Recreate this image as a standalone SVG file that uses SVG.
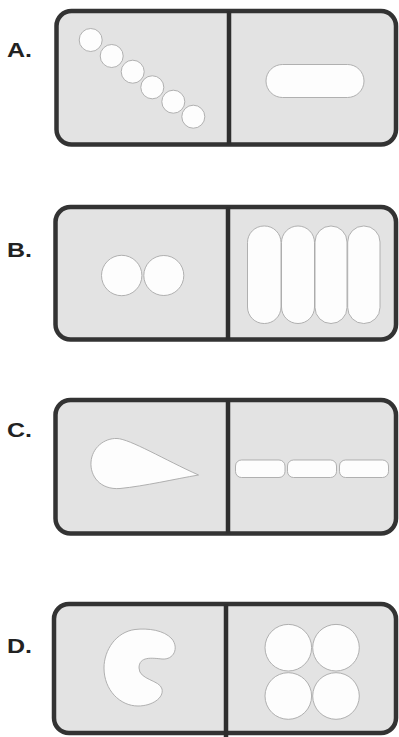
<svg xmlns="http://www.w3.org/2000/svg" width="399" height="737" viewBox="0 0 399 737">
<style>
.box{fill:#e3e3e3;stroke:#333;stroke-width:4.5}
.div{stroke:#2e2e2e;stroke-width:4.5}
.cell{fill:#fdfdfd;stroke:#a8a8a8;stroke-width:0.9}
.lbl{font-family:"Liberation Sans",Arial,sans-serif;font-weight:bold;font-size:20px;fill:#222}
</style>
<rect width="399" height="737" fill="#fff"/>
<g id="panelA">
<text class="lbl" x="7" y="57" textLength="25" lengthAdjust="spacingAndGlyphs">A.</text>
<rect class="box" x="56.5" y="11" width="339.5" height="133.5" rx="15"/>
<line class="div" x1="229" y1="11" x2="229" y2="144.5"/>
<circle class="cell" cx="90.7" cy="40" r="11.5"/>
<circle class="cell" cx="111.7" cy="56" r="11.5"/>
<circle class="cell" cx="132.7" cy="71.7" r="11.5"/>
<circle class="cell" cx="152.3" cy="87.3" r="11.5"/>
<circle class="cell" cx="173.3" cy="101.7" r="11.5"/>
<circle class="cell" cx="193.3" cy="116.7" r="11.5"/>
<rect class="cell" x="266" y="64.5" width="98" height="33" rx="16.5"/>
</g>
<g id="panelB">
<text class="lbl" x="7" y="257" textLength="25" lengthAdjust="spacingAndGlyphs">B.</text>
<rect class="box" x="55.5" y="207" width="340.5" height="132.5" rx="15"/>
<line class="div" x1="228" y1="207" x2="228" y2="339.5"/>
<circle class="cell" cx="121.7" cy="275.5" r="20.2"/>
<circle class="cell" cx="163.8" cy="275.5" r="20"/>
<rect class="cell" x="247.5" y="226" width="33.5" height="97.5" rx="16.5"/>
<rect class="cell" x="281.5" y="226" width="33" height="97.5" rx="16.5"/>
<rect class="cell" x="315" y="226" width="32" height="97.5" rx="16"/>
<rect class="cell" x="347.7" y="226" width="32.3" height="97.5" rx="16"/>
</g>
<g id="panelC">
<text class="lbl" x="7" y="437" textLength="25" lengthAdjust="spacingAndGlyphs">C.</text>
<rect class="box" x="55.5" y="400" width="340.5" height="133.5" rx="15"/>
<line class="div" x1="228" y1="400" x2="228" y2="533.5"/>
<path class="cell" d="M198.5 475 C175 479,145 486,120 488.5 C100 490,90 476,91 462 C92 448,104 438,117 438.5 C130 439,165 460,198.5 475 Z"/>
<rect class="cell" x="235.5" y="460" width="49.5" height="17.5" rx="6"/>
<rect class="cell" x="287.5" y="460" width="49" height="17.5" rx="6"/>
<rect class="cell" x="339.5" y="460" width="49" height="17.5" rx="6"/>
</g>
<g id="panelD">
<text class="lbl" x="7" y="653" textLength="25" lengthAdjust="spacingAndGlyphs">D.</text>
<rect class="box" x="54" y="604" width="342" height="129" rx="15"/>
<line class="div" x1="226" y1="604" x2="226" y2="737"/>
<path class="cell" d="M139 668 C139 656,152 658,162 659 C174 660,179 648,172 639 C164 630,148 628,135 629.5 C116 632,104 650,104 668 C104 690,120 706,138 706 C152 706,164 698,162 689 C160 680,139 680,139 668 Z"/>
<circle class="cell" cx="288.3" cy="647.7" r="23.3"/>
<circle class="cell" cx="336" cy="647.7" r="23.3"/>
<circle class="cell" cx="288.3" cy="696" r="23.3"/>
<circle class="cell" cx="336" cy="696" r="23.3"/>
</g>
</svg>
